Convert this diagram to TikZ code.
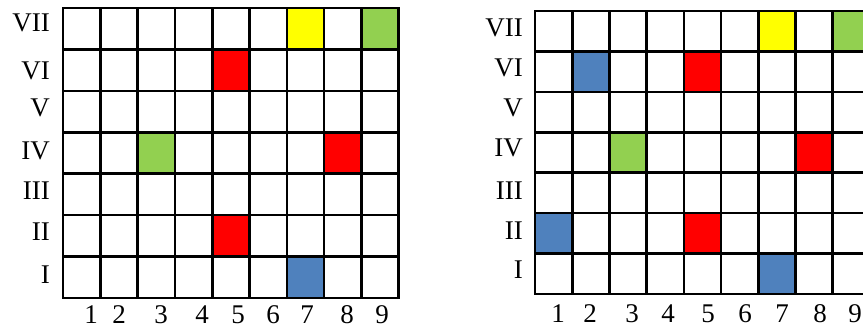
\documentclass[tikz,border=0pt]{standalone}
\usepackage{fontspec}
\setmainfont{Liberation Serif}
\definecolor{cyel}{HTML}{FFFF00}
\definecolor{cgrn}{HTML}{92D050}
\definecolor{cred}{HTML}{FF0000}
\definecolor{cblu}{HTML}{4F81BD}
\tikzset{
  gridline/.style={line width=2.6pt, black, line cap=rect},
  lab/.style={font=\fontsize{27}{30}\selectfont, inner sep=0pt},
  rowlab/.style={lab, anchor=base east},
  collab/.style={lab, anchor=base},
}
\begin{document}
\begin{tikzpicture}[x=1pt,y=-1pt]
\useasboundingbox (0,0) rectangle (863,329);
\clip (0,0) rectangle (863,329);
% ---------- left grid ----------
\begin{scope}[shift={(63,8)}, x=37.3pt, y=-41.43pt]
  \fill[cyel] (6,0) rectangle (7,1);
  \fill[cgrn] (8,0) rectangle (9,1);
  \fill[cred] (4,1) rectangle (5,2);
  \fill[cgrn] (2,3) rectangle (3,4);
  \fill[cred] (7,3) rectangle (8,4);
  \fill[cred] (4,5) rectangle (5,6);
  \fill[cblu] (6,6) rectangle (7,7);
  \foreach \i in {0,...,9} \draw[gridline] (\i,0) -- (\i,7);
  \foreach \j in {0,...,7} \draw[gridline] (0,\j) -- (9,\j);
\end{scope}
% ---------- right grid ----------
\begin{scope}[shift={(535,11)}, x=37.2pt, y=-40.43pt]
  \fill[cyel] (6,0) rectangle (7,1);
  \fill[cgrn] (8,0) rectangle (9,1);
  \fill[cblu] (1,1) rectangle (2,2);
  \fill[cred] (4,1) rectangle (5,2);
  \fill[cgrn] (2,3) rectangle (3,4);
  \fill[cred] (7,3) rectangle (8,4);
  \fill[cblu] (0,5) rectangle (1,6);
  \fill[cred] (4,5) rectangle (5,6);
  \fill[cblu] (6,6) rectangle (7,7);
  \foreach \i in {0,...,9} \draw[gridline] (\i,0) -- (\i,7);
  \foreach \j in {0,...,7} \draw[gridline] (0,\j) -- (9,\j);
\end{scope}
% ---------- left labels ----------
\node[rowlab] (la7) at (50,32) {VII};
\node[rowlab] (la6) at (50,80) {VI};
\node[rowlab] (la5) at (50,117) {V};
\node[rowlab] (la4) at (50,160) {IV};
\node[rowlab] (la3) at (50,199) {III};
\node[rowlab] (la2) at (50,240) {II};
\node[rowlab] (la1) at (50,283) {I};
\foreach \n/\x in {1/91,2/119,3/161,4/202,5/238,6/273,7/307,8/347,9/382}
  \node[collab] (lc\n) at (\x,323) {\n};
% ---------- right labels ----------
\node[rowlab] (ra7) at (523,37) {VII};
\node[rowlab] (ra6) at (523,77) {VI};
\node[rowlab] (ra5) at (523,117) {V};
\node[rowlab] (ra4) at (523,157) {IV};
\node[rowlab] (ra3) at (523,199) {III};
\node[rowlab] (ra2) at (523,239) {II};
\node[rowlab] (ra1) at (523,278) {I};
\foreach \n/\x in {1/558,2/590,3/632,4/668,5/708,6/745,7/782,8/820,9/855}
  \node[collab] (rc\n) at (\x,322) {\n};
\end{tikzpicture}
\end{document}
